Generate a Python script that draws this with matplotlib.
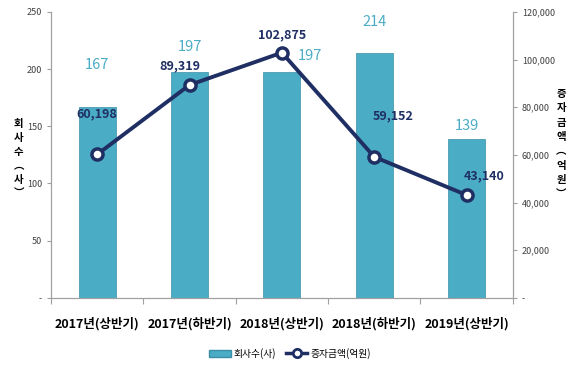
import matplotlib
matplotlib.use('Agg')
import matplotlib.pyplot as plt
from matplotlib.patches import Patch
from matplotlib.lines import Line2D

plt.rcParams['font.family'] = ['Noto Sans CJK KR', 'DejaVu Sans']

periods = ['2017년(상반기)', '2017년(하반기)', '2018년(상반기)', '2018년(하반기)', '2019년(상반기)']
companies = [167, 197, 197, 214, 139]
amounts = [60198, 89319, 102875, 59152, 43140]

# label offsets in pixels (dx, dy)
bar_off = [(0, 42), (0, 25), (28, 16), (0, 31), (0, 13)]
line_off = [(0, 41), (-10, 19), (0, 18), (19, 41), (18, 19)]

bar_color = '#4BACC6'
line_color = '#1F2F63'

fig = plt.figure(figsize=(5.8, 3.7), dpi=100)
ax = fig.add_axes([0.088, 0.195, 0.796, 0.773])
ax2 = ax.twinx()

x = list(range(len(periods)))
ax.bar(x, companies, width=0.4, color=bar_color, edgecolor='#3A8FA6', linewidth=0.5, zorder=2)
ax.set_ylim(0, 250)
ax.set_xlim(-0.5, 4.5)
ax.set_yticks([0, 50, 100, 150, 200, 250])
ax.set_yticklabels(['-', '50', '100', '150', '200', '250'], fontsize=6.5, color='#404040')
ax.set_xticks([i - 0.5 for i in range(6)])
ax.set_xticklabels([])
ax.set_xticks(x, minor=True)
ax.set_xticklabels(periods, minor=True, fontsize=9, fontweight='bold')
ax.tick_params(axis='x', which='minor', length=0, pad=14)
ax.tick_params(axis='x', which='major', length=4, color='#A0A0A0')
ax.tick_params(axis='y', length=3, color='#A0A0A0')

ax2.plot(x, amounts, color=line_color, lw=2.8, marker='o', markersize=8,
         markerfacecolor='white', markeredgecolor=line_color, markeredgewidth=2.5, zorder=3)
ax2.set_ylim(0, 120000)
ax2.set_yticks([0, 20000, 40000, 60000, 80000, 100000, 120000])
ax2.set_yticklabels(['-', '20,000', '40,000', '60,000', '80,000', '100,000', '120,000'],
                    fontsize=6.5, color='#404040')
ax2.tick_params(axis='y', length=3, color='#A0A0A0')

for a in (ax, ax2):
    a.spines['top'].set_visible(False)
    for s in ('left', 'right', 'bottom'):
        a.spines[s].set_color('#A0A0A0')

for xi, v, (dx, dy) in zip(x, companies, bar_off):
    ax.annotate(str(v), (xi, v), xytext=(dx, dy), textcoords='offset pixels',
                ha='center', va='center', fontsize=10.5, color=bar_color)
for xi, v, (dx, dy) in zip(x, amounts, line_off):
    ax2.annotate(f'{v:,}', (xi, v), xytext=(dx, dy), textcoords='offset pixels',
                 ha='center', va='center', fontsize=9, fontweight='bold', color=line_color,
                 zorder=5)

fig.text(0.032, 0.57, '회\n사\n수\n︵\n사\n︶', ha='center', va='center', fontsize=7.5,
         fontweight='bold', linespacing=1.5)
fig.text(0.968, 0.61, '증\n자\n금\n액\n︵\n억\n원\n︶', ha='center', va='center', fontsize=7.5,
         fontweight='bold', linespacing=1.55)

handles = [Patch(facecolor=bar_color, edgecolor='#3A8FA6'),
           Line2D([], [], color=line_color, lw=2.5, marker='o', markersize=6,
                  markerfacecolor='white', markeredgewidth=2)]
fig.legend(handles, ['회사수(사)', '증자금액(억원)'], loc='center', bbox_to_anchor=(0.5, 0.045),
           ncol=2, frameon=False, fontsize=7, handlelength=2.2, columnspacing=1.0,
           handletextpad=0.3)

fig.savefig('out.png', dpi=100)
